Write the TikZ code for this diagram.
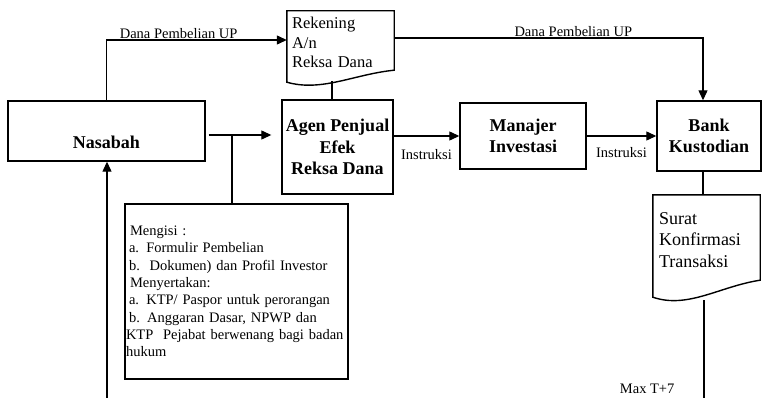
\documentclass[tikz,border=0pt]{standalone}
\usepackage{fontspec}
\setmainfont{Liberation Serif}
\usetikzlibrary{arrows.meta}
\tikzstyle{party} = [rectangle, inner sep=0pt,
draw=black, line width=1.4pt,
font=\fontsize{18}{21.5}\selectfont\bfseries, align=center]
\tikzstyle{doc} = [rectangle, inner xsep=5pt, inner ysep=0pt,
align=left]
\tikzstyle{docline} = [draw=black, line width=1.4pt]
\tikzstyle{note} = [rectangle, inner xsep=1pt,
draw=black, line width=1.4pt,
font=\fontsize{14.5}{17.3}\selectfont, align=left]
\tikzstyle{lbl} = [font=\fontsize{14.5}{17}\selectfont, inner sep=1pt]
\tikzstyle{link} = [line width=1.2pt]
\tikzstyle{arrow} = [line width=1.2pt,-{Triangle[length=10pt,width=9pt]}]

\begin{document}
\begin{tikzpicture}[x=1pt, y=-1pt]
                \useasboundingbox (0,0) rectangle (762,398);

                \node (nas) [party, minimum width=197pt, minimum height=60pt, text height=42pt, text depth=6pt, inner ysep=6pt] at (106.5,131) {Nasabah};
                \node (agen) [party, minimum width=111pt, minimum height=94pt] at (337.5,147) {Agen Penjual\\Efek\\Reksa Dana};
                \node (man) [party, minimum width=126pt, minimum height=66pt] at (523,136) {Manajer\\Investasi};
                \node (bank) [party, minimum width=104pt, minimum height=70pt] at (709,136) {Bank\\Kustodian};
                \node (rek) [doc, font=\fontsize{16.5}{19.5}\selectfont, text width=97pt, minimum height=63pt] at (340.5,42.5) {Rekening\\A/n\\Reksa Dana};
                \node (surat) [doc, inner xsep=6pt, font=\fontsize{18}{21.5}\selectfont, text width=95pt, minimum height=90pt] at (706.5,240) {Surat\\Konfirmasi\\Transaksi};
                \node (isi) [note, text width=221pt, minimum height=175pt] at (236.5,291.5) {%
                \hspace*{4pt}Mengisi :\\%
                \hspace*{3pt}a. Formulir Pembelian\\%
                \hspace*{3pt}b.\ \ Dokumen) dan Profil Investor\\%
                \hspace*{4pt}Menyertakan:\\%
                \hspace*{3pt}a. KTP/ Paspor untuk perorangan\\%
                \hspace*{3pt}b. Anggaran Dasar, NPWP dan\\%
                KTP\ \ Pejabat berwenang bagi badan\\%
                hukum};

                % document outlines
                \draw [docline] (rek.north west) -- ([yshift=-8pt]rek.south west) .. controls +(35,10) and +(-40,4) .. ([yshift=4pt]rek.south east) -- (rek.north east) -- cycle;
                \draw [docline] (surat.north west) -- ([yshift=-12pt]surat.south west) .. controls +(35,12) and +(-40,6) .. ([yshift=5pt]surat.south east) -- (surat.north east) -- cycle;

                \coordinate (fork) at (232,135);
                \coordinate (out) at (704,400);
                \coordinate (back) at (107,400);

                \draw [arrow] (nas.north) |- node[lbl, pos=0.7, above] {Dana Pembelian UP} ([yshift=2.5pt]rek.west);

                \draw [arrow] ([yshift=4.5pt]rek.east) -| node[lbl, pos=0.29, above] {Dana Pembelian UP} ([xshift=-6pt]bank.north);

                \draw [link, shorten <=7pt] ([xshift=-8.5pt]rek.south) -- ([xshift=-8.5pt]rek.south |- agen.north);

                \draw [arrow, shorten >=10pt] ([xshift=3pt]nas.east |- fork) -- (agen.west |- fork);
                \draw [link] (fork) -- (fork |- isi.north);

                \draw [arrow] (agen.east |- man.west) -- node[lbl, below=12pt] {Instruksi} (man.west);

                \draw [arrow] (man.east) -- node[lbl, below=10pt] {Instruksi} (bank.west);

                \draw [link] ([xshift=-6pt]bank.south) -- ([xshift=-6pt]bank.south |- surat.north);

                \draw [link, shorten <=15pt] (out |- surat.south) -- node[lbl, pos=0.9, left=28pt] {Max T+7} (out);

                \draw [arrow] (back) -- (back |- nas.south);
            \end{tikzpicture}
\end{document}
